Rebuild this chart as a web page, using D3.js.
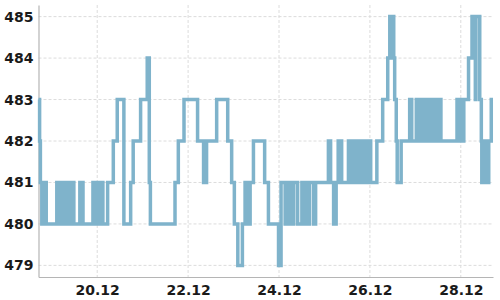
<!DOCTYPE html>
<html>
<head>
<meta charset="utf-8">
<script src="https://cdn.jsdelivr.net/npm/d3@7"></script>
<style>
  body { margin: 0; background: #fff; }
  svg text { font-family: "DejaVu Sans", sans-serif; font-weight: bold; font-size: 14px; fill: #1a1a1a; }
</style>
</head>
<body>
<div id="chart"></div>
<script>
// readings, change points of the series (value holds until the next time)
const times = [
  "18.12 17:00", "18.12 17:35", "18.12 18:00", "18.12 18:45", "18.12 19:30", "18.12 21:05",
  "19.12 02:40", "19.12 03:45", "19.12 04:15", "19.12 05:20", "19.12 06:10", "19.12 07:10",
  "19.12 08:00", "19.12 09:00", "19.12 09:50", "19.12 11:40", "19.12 14:50", "19.12 16:30",
  "19.12 21:45", "19.12 22:45", "19.12 23:30", "20.12 00:55", "20.12 01:40", "20.12 03:00",
  "20.12 05:30", "20.12 08:30", "20.12 10:35", "20.12 14:05", "20.12 17:40", "20.12 19:00",
  "20.12 22:55", "21.12 02:25", "21.12 03:30", "21.12 04:05", "21.12 17:05", "21.12 18:50",
  "21.12 21:50", "22.12 05:00", "22.12 08:10", "22.12 09:45", "22.12 15:05", "22.12 20:55",
  "22.12 23:00", "23.12 00:25", "23.12 02:15", "23.12 04:40", "23.12 06:05", "23.12 07:40",
  "23.12 08:45", "23.12 10:30", "23.12 16:25", "23.12 18:25", "23.12 23:45", "24.12 01:05",
  "24.12 03:15", "24.12 04:00", "24.12 05:05", "24.12 05:50", "24.12 06:55", "24.12 07:45",
  "24.12 09:50", "24.12 12:05", "24.12 13:00", "24.12 13:45", "24.12 14:50", "24.12 16:05",
  "24.12 18:15", "24.12 19:20", "25.12 02:05", "25.12 03:15", "25.12 04:50", "25.12 06:10",
  "25.12 07:15", "25.12 09:05", "25.12 12:40", "25.12 13:50", "25.12 14:55", "25.12 16:15",
  "25.12 17:15", "25.12 18:50", "25.12 20:35", "25.12 21:45", "25.12 22:50", "26.12 00:25",
  "26.12 03:40", "26.12 06:45", "26.12 09:25", "26.12 10:30", "26.12 11:30", "26.12 11:55",
  "26.12 12:35", "26.12 13:05", "26.12 13:55", "26.12 14:25", "26.12 16:30", "26.12 21:00",
  "26.12 22:05", "27.12 00:30", "27.12 01:30", "27.12 02:00", "27.12 02:55", "27.12 04:40",
  "27.12 05:45", "27.12 06:35", "27.12 07:35", "27.12 08:25", "27.12 09:35", "27.12 10:30",
  "27.12 11:50", "27.12 12:35", "27.12 13:30", "27.12 22:00", "27.12 22:55", "27.12 23:45",
  "28.12 00:45", "28.12 01:35", "28.12 04:05", "28.12 05:55", "28.12 07:10", "28.12 07:40",
  "28.12 08:00", "28.12 10:00", "28.12 10:50", "28.12 11:05", "28.12 12:10", "28.12 12:40",
  "28.12 13:45", "28.12 14:15", "28.12 14:45", "28.12 16:05", "28.12 17:00"
];
const values = [
  483, 482, 481, 480, 481, 480,
  481, 480, 481, 480, 481, 480,
  481, 480, 481, 480, 481, 480,
  481, 480, 481, 480, 481, 480,
  481, 482, 483, 480, 481, 482,
  483, 484, 481, 480, 481, 482,
  483, 482, 481, 482, 483, 482,
  481, 480, 479, 480, 481, 480,
  481, 482, 481, 480, 479, 481,
  480, 481, 480, 481, 480, 481,
  480, 481, 480, 481, 480, 481,
  480, 481, 482, 481, 480, 481,
  482, 481, 482, 481, 482, 481,
  482, 481, 482, 481, 482, 481,
  482, 483, 484, 485, 484, 485,
  484, 483, 482, 481, 482, 483,
  482, 483, 482, 483, 482, 483,
  482, 483, 482, 483, 482, 483,
  482, 483, 482, 483, 482, 483,
  482, 483, 484, 485, 484, 483,
  485, 483, 482, 481, 482, 481,
  482, 481, 482, 483, 483
];
const yTicks = [479, 480, 481, 482, 483, 484, 485];
const xTickLabels = ["20.12", "22.12", "24.12", "26.12", "28.12"];

const W = 500, H = 300;
const margin = { top: 5, right: 7, bottom: 23, left: 38.5 };

const parseTime = d3.timeParse("%d.%m %H:%M");
const parseDay = d3.timeParse("%d.%m");
const data = times.map((t, i) => ({ t: parseTime(t), v: values[i] }));
const xTicks = xTickLabels.map(parseDay);

const svg = d3.select("#chart").append("svg")
  .attr("width", W)
  .attr("height", H);

const x = d3.scaleTime()
  .domain(d3.extent(data, d => d.t))
  .range([margin.left, W - margin.right]);
const y = d3.scaleLinear()
  .domain([478.72, 485.28])
  .range([H - margin.bottom, margin.top]);

// grid
svg.append("g")
  .selectAll("line")
  .data(yTicks)
  .join("line")
  .attr("x1", margin.left).attr("x2", W - margin.right)
  .attr("y1", d => y(d)).attr("y2", d => y(d))
  .attr("stroke", "#dcdcdc").attr("stroke-dasharray", "3,2");
svg.append("g")
  .selectAll("line")
  .data(xTicks)
  .join("line")
  .attr("x1", d => x(d)).attr("x2", d => x(d))
  .attr("y1", margin.top).attr("y2", H - margin.bottom)
  .attr("stroke", "#dcdcdc").attr("stroke-dasharray", "3,2");

// axes
const xAxis = svg.append("g")
  .attr("transform", `translate(0,${H - margin.bottom})`)
  .call(d3.axisBottom(x).tickValues(xTicks).tickFormat(d3.timeFormat("%d.%m")).tickSize(0).tickPadding(8));
const yAxis = svg.append("g")
  .attr("transform", `translate(${margin.left},0)`)
  .call(d3.axisLeft(y).tickValues(yTicks).tickFormat(d3.format("d")).tickSize(0).tickPadding(5));
[xAxis, yAxis].forEach(g => {
  g.select(".domain").attr("stroke", "#b5b5b5").attr("stroke-width", 1.2);
  g.selectAll("text").attr("fill", "#1a1a1a").style("font-size", "14px").style("font-family", "DejaVu Sans").style("font-weight", "bold");
});

// the series
const line = d3.line()
  .curve(d3.curveStepAfter)
  .x(d => x(d.t))
  .y(d => y(d.v));
svg.append("path")
  .datum(data)
  .attr("fill", "none")
  .attr("stroke", "#7fb3cb")
  .attr("stroke-width", 3.5)
  .attr("stroke-linejoin", "miter")
  .attr("d", line);
</script>
</body>
</html>
